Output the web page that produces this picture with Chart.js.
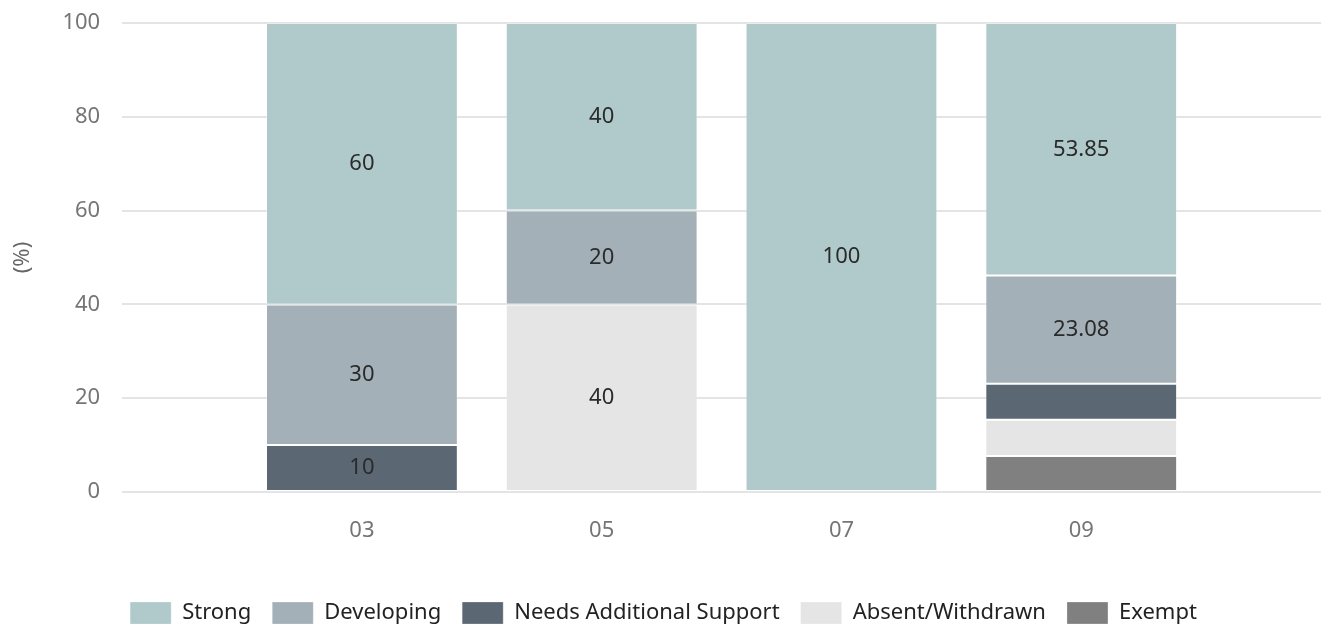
<!DOCTYPE html>
<html>
<head>
<meta charset="utf-8">
<script src="https://cdn.jsdelivr.net/npm/chart.js@4/dist/chart.umd.min.js"></script>
<style>
  html, body { margin: 0; padding: 0; background: #fff; }
  #wrap { width: 1325px; height: 627px; }
</style>
</head>
<body>
<div id="wrap"><canvas id="chart"></canvas></div>
<script>
// Grades along x, one value per grade
const categories = ['03', '05', '07', '09'];

const seriesNames  = ['Strong', 'Developing', 'Needs Additional Support', 'Absent/Withdrawn', 'Exempt'];
const seriesColors = ['#b0c9cb', '#a3b0b8', '#5b6873', '#e5e5e5', '#808080'];

const strong     = [60, 40, 100, 53.85];
const developing = [30, 20, 0, 23.08];
const needsSupp  = [10, 0, 0, 7.69];
const absent     = [0, 40, 0, 7.69];
const exempt     = [0, 0, 0, 7.69];

const yTicks = [0, 20, 40, 60, 80, 100];

const seriesValues = [strong, developing, needsSupp, absent, exempt];

// empty slot either side so the bars sit where the original does
const labels = [''].concat(categories, ['']);
const pad = arr => [null].concat(arr.map(v => v || null), [null]);

// stack bottom-up is Exempt ... Strong, legend shows it reversed
const datasets = seriesNames.map((name, i) => ({
  label: name,
  data: pad(seriesValues[i]),
  backgroundColor: seriesColors[i],
  borderColor: 'rgba(255,255,255,0.25)',
  borderWidth: 1,
  borderSkipped: false,
  barPercentage: 0.8,
  categoryPercentage: 1,
})).reverse();

// ── value labels inside segments ──────────
const segmentLabels = {
  id: 'segmentLabels',
  afterDatasetsDraw(chart) {
    const ctx = chart.ctx;
    ctx.save();
    ctx.font = '22px "Noto Sans", "Open Sans", sans-serif';
    ctx.fillStyle = '#2a2a2a';
    ctx.textAlign = 'center';
    ctx.textBaseline = 'middle';
    chart.data.datasets.forEach((ds, di) => {
      const meta = chart.getDatasetMeta(di);
      meta.data.forEach((el, i) => {
        const v = ds.data[i];
        if (v == null || v < 10) return;
        ctx.fillText(String(v), el.x, (el.y + el.base) / 2);
      });
    });
    ctx.restore();
  }
};

Chart.defaults.font.family = '"Noto Sans", "Open Sans", sans-serif';
Chart.defaults.font.size = 22;
Chart.defaults.color = '#757575';

new Chart(document.getElementById('chart'), {
  type: 'bar',
  data: { labels, datasets },
  plugins: [segmentLabels],
  options: {
    responsive: true,
    maintainAspectRatio: false,
    animation: false,
    layout: { padding: { left: 4, right: 2, top: 23, bottom: -7 } },
    plugins: {
      legend: {
        position: 'bottom',
        reverse: true,
        labels: {
          boxWidth: 41,
          boxHeight: 22,
          padding: 21,
          color: '#222',
          font: { size: 22 },
        },
      },
      tooltip: { enabled: false },
    },
    scales: {
      x: {
        stacked: true,
        offset: false,
        grid: { display: false, drawTicks: true, tickLength: 22 },
        border: { display: false },
        ticks: { padding: 4, maxRotation: 0, autoSkip: false },
        afterFit: s => { s.height = 89; },
      },
      y: {
        stacked: true,
        min: 0,
        max: 100,
        afterBuildTicks: axis => { axis.ticks = yTicks.map(v => ({ value: v })); },
        grid: { color: '#e4e4e4', lineWidth: 2, drawTicks: true, tickLength: 18, tickColor: 'rgba(0,0,0,0)' },
        border: { display: false },
        ticks: { padding: 4 },
        title: { display: true, text: '(%)', color: '#666', font: { size: 22 }, padding: { top: 6, bottom: 22 } },
      },
    },
  },
});
</script>
</body>
</html>
